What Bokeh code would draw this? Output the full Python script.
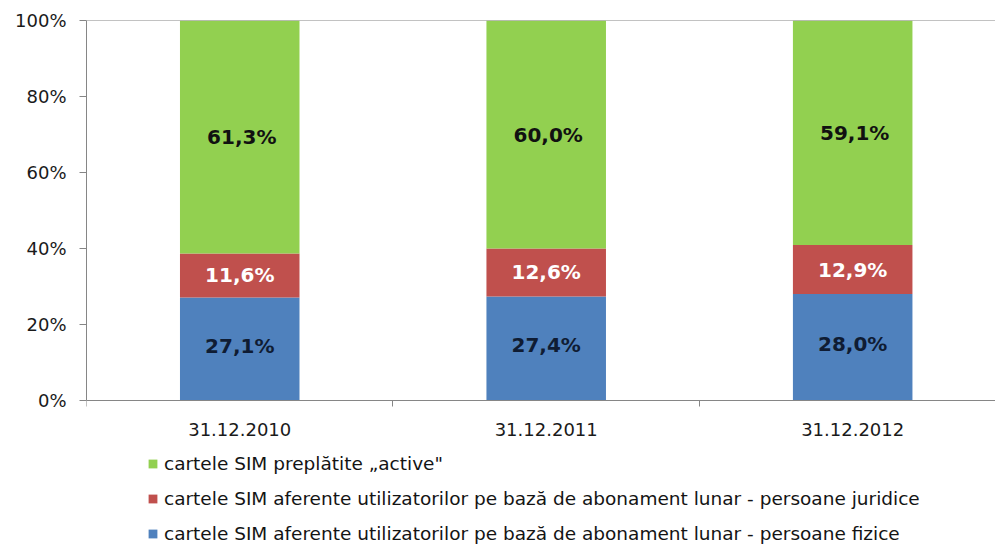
from bokeh.plotting import figure
from bokeh.models import ColumnDataSource, FixedTicker, Span, Legend, LegendItem, Range1d
from bokeh.embed import file_html
from bokeh.resources import INLINE
from bokeh.core.properties import value

categories = ["31.12.2010", "31.12.2011", "31.12.2012"]
fizice = [27.1, 27.4, 28.0]
juridice = [11.6, 12.6, 12.9]
preplatite = [61.3, 60.0, 59.1]
series_names = [
    "cartele SIM preplătite „active\"",
    "cartele SIM aferente utilizatorilor pe bază de abonament lunar - persoane juridice",
    "cartele SIM aferente utilizatorilor pe bază de abonament lunar - persoane fizice",
]
y_ticks = [0, 20, 40, 60, 80, 100]

GREEN = "#92D050"
RED = "#C0504D"
BLUE = "#4F81BD"
AXIS = "#868686"
FONT = "DejaVu Sans"

x = list(range(len(categories)))
b0 = [0.0] * 3
b1 = [f for f in fizice]
b2 = [f + j for f, j in zip(fizice, juridice)]
t2 = [a + p for a, p in zip(b2, preplatite)]

def fmt(v):
    return f"{v:.1f}%".replace(".", ",")

src = ColumnDataSource(dict(
    x=x, b0=b0, b1=b1, b2=b2, t2=t2,
    m0=[(a + b) / 2 for a, b in zip(b0, b1)],
    m1=[(a + b) / 2 for a, b in zip(b1, b2)],
    m2=[(a + b) / 2 for a, b in zip(b2, t2)],
    l0=[fmt(v) for v in fizice],
    l1=[fmt(v) for v in juridice],
    l2=[fmt(v) for v in preplatite],
))

# frame: top at 20px, value 0 at 400px, bottom at 548px -> extra room below 0 for legend
PX_PER_UNIT = 380 / 100
Y_LOW = -(548 - 400) / PX_PER_UNIT

p = figure(width=995, height=548, output_backend="svg", toolbar_location=None,
           x_range=Range1d(-0.5, 2.466), y_range=Range1d(Y_LOW, 100),
           min_border_left=86, min_border_right=0, min_border_top=20, min_border_bottom=0)
p.outline_line_color = None
p.xgrid.grid_line_color = None
p.ygrid.grid_line_color = None
p.background_fill_color = "white"
p.border_fill_color = "white"

W = 0.39
r_blue = p.vbar(x="x", bottom="b0", top="b1", width=W, source=src, fill_color=BLUE, line_color=None)
r_red = p.vbar(x="x", bottom="b1", top="b2", width=W, source=src, fill_color=RED, line_color=None)
r_green = p.vbar(x="x", bottom="b2", top="t2", width=W, source=src, fill_color=GREEN, line_color=None)

common = dict(source=src, text_align="center", text_baseline="middle",
              text_font=value(FONT), text_font_style="bold", text_font_size="20px")
p.text(x="x", y="m2", text="l2", text_color="#111111", x_offset=2, **common)
p.text(x="x", y="m1", text="l1", text_color="#ffffff", **common)
p.text(x="x", y="m0", text="l0", text_color="#0f1c33", y_offset=-3, **common)

p.add_layout(Span(location=100, dimension="width", line_color=AXIS, line_width=1))

# y axis
yax = p.yaxis[0]
yax.ticker = FixedTicker(ticks=y_ticks, minor_ticks=[])
yax.bounds = (0, 100)
yax.major_label_overrides = {t: f"{t}%" for t in y_ticks}
yax.axis_line_color = AXIS
yax.major_tick_line_color = AXIS
yax.major_tick_out = 7
yax.major_tick_in = 0
yax.minor_tick_line_color = None
yax.major_label_standoff = 13
yax.major_label_text_font = FONT
yax.major_label_text_font_size = "18px"
yax.major_label_text_color = "#1a1a1a"

# x axis (drawn at value 0)
xax = p.xaxis[0]
xax.fixed_location = 0
xax.ticker = FixedTicker(ticks=x, minor_ticks=[i + 0.5 for i in range(-1, len(categories))])
xax.major_label_overrides = {i: c for i, c in zip(x, categories)}
xax.axis_line_color = AXIS
xax.major_tick_line_color = None
xax.major_tick_out = 0
xax.major_tick_in = 0
xax.minor_tick_line_color = AXIS
xax.minor_tick_out = 6
xax.minor_tick_in = 0
xax.major_label_standoff = 16
xax.major_label_text_font = FONT
xax.major_label_text_font_size = "18px"
xax.major_label_text_color = "#1a1a1a"

legend = Legend(items=[
    LegendItem(label=series_names[0], renderers=[r_green]),
    LegendItem(label=series_names[1], renderers=[r_red]),
    LegendItem(label=series_names[2], renderers=[r_blue]),
], location=(61, 4))
legend.border_line_color = None
legend.background_fill_alpha = 0
legend.padding = 0
legend.margin = 0
legend.glyph_width = 11
legend.glyph_height = 11
legend.label_height = 20
legend.label_standoff = 6
legend.spacing = 14
legend.label_text_font = FONT
legend.label_text_font_size = "18.5px"
legend.label_text_color = "#141414"
legend.label_text_baseline = "middle"
p.add_layout(legend, "center")

open("out.html", "w").write(file_html(p, INLINE))
